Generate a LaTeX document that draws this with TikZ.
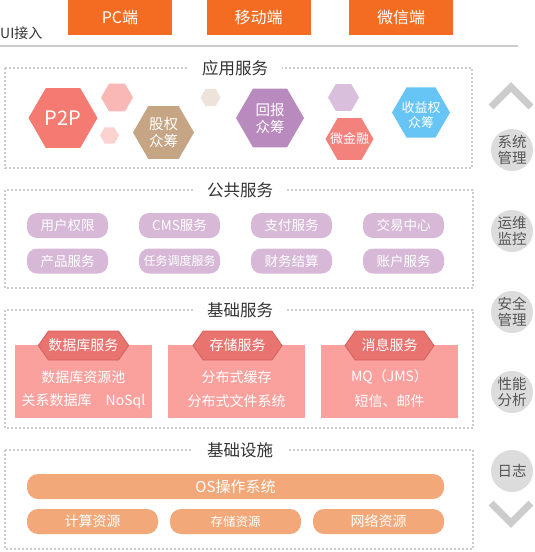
\documentclass[tikz,border=0pt]{standalone}
\usepackage{fontspec}
\setmainfont{Noto Sans CJK SC}
\usetikzlibrary{shapes.geometric,shapes.symbols}

\definecolor{uiorange}{HTML}{F36C21}
\definecolor{linegray}{HTML}{CCCCCC}
\definecolor{titlegray}{HTML}{333333}
\definecolor{p2pred}{HTML}{F47A72}
\definecolor{softpink}{HTML}{F9B8B6}
\definecolor{palepink}{HTML}{FCD2D1}
\definecolor{tanbrown}{HTML}{C6A585}
\definecolor{beige}{HTML}{EDE3DB}
\definecolor{mauve}{HTML}{B98ABD}
\definecolor{lilac}{HTML}{D9BFDB}
\definecolor{coral}{HTML}{F4827C}
\definecolor{skyblue}{HTML}{66C5F5}
\definecolor{pillpurple}{HTML}{D7B9D7}
\definecolor{panelpink}{HTML}{FBA19D}
\definecolor{headred}{HTML}{E8736F}
\definecolor{headedge}{HTML}{D45F5B}
\definecolor{infraorange}{HTML}{F2A878}
\definecolor{circgray}{HTML}{DCDCDC}
\definecolor{circtext}{HTML}{555555}

\begin{document}
\begin{tikzpicture}[x=1pt, y=-1pt, font=\fontsize{13}{15}\selectfont,
  layer/.style={draw=linegray, line width=1.6pt, dash pattern=on 1.6pt off 2.4pt},
  layertitle/.style={fill=white, text=titlegray, inner xsep=14pt, inner ysep=3pt,
    font=\fontsize{16.5}{18}\selectfont},
  entry/.style={fill=uiorange, text=white, minimum width=104pt, minimum height=35pt,
    inner sep=0pt, font=\fontsize{16}{17}\selectfont},
  hexa/.style={regular polygon, regular polygon sides=6, inner sep=0pt, fill=#1},
  hextext/.style={text=white, align=center, inner sep=0pt, font=\fontsize{14.5}{17}\selectfont},
  pill/.style={fill=pillpurple, text=white, rounded corners=10pt, minimum width=81pt,
    minimum height=25pt, inner sep=0pt, font=\fontsize{13.5}{15}\selectfont},
  panel/.style={fill=panelpink, minimum width=137pt, minimum height=73pt, inner sep=0pt},
  panelhead/.style={signal, signal to=west and east, signal pointer angle=110,
    fill=headred, draw=headedge, line width=0.8pt, text=white, minimum width=89pt,
    minimum height=29pt, inner sep=0pt, font=\fontsize{14}{16}\selectfont},
  paneltext/.style={text=white, inner sep=0pt, font=\fontsize{14}{16}\selectfont},
  infra/.style={fill=infraorange, text=white, rounded corners=11pt, minimum height=25pt,
    inner sep=0pt, font=\fontsize{14}{16}\selectfont},
  side/.style={circle, fill=circgray, text=circtext, minimum size=42pt, inner sep=0pt,
    align=center, font=\fontsize{14.5}{16}\selectfont},
  chev/.style={draw=linegray, line width=7pt, miter limit=10}]

  \useasboundingbox (0,0) rectangle (535,552);

  % --- UI接入 ---
  \node[anchor=west, text=titlegray, inner sep=0pt, font=\fontsize{14}{16}\selectfont] (ui) at (0,33) {UI接入};
  \node[entry] (pc) at (120,17.5) {PC端};
  \node[entry] (mobile) at (258.5,17.5) {移动端};
  \node[entry] (wechat) at (401,17.5) {微信端};
  \draw[linegray, line width=2.5pt] (0,46) -- (518,46);

  % --- 应用服务 ---
  \draw[layer] (5,68) rectangle (472,168);
  \node[layertitle] (app) at (235,68) {应用服务};
  \node[hexa=p2pred, minimum size=69pt] (p2p) at (63,118) {};
  \node[hextext, font=\fontsize{20}{22}\selectfont] (p2p-t) at (p2p) {P2P};
  \node[hexa=softpink, minimum size=32pt] (dot1) at (117,97.5) {};
  \node[hexa=palepink, minimum size=19pt] (dot2) at (109.5,135.5) {};
  \node[hexa=tanbrown, minimum size=61pt] (equity) at (163.5,132.5) {};
  \node[hextext] (equity-t) at (equity) {股权\\众筹};
  \node[hexa=beige, minimum size=20pt] (dot3) at (210.5,97.5) {};
  \node[hexa=mauve, minimum size=68pt] (reward) at (270,118) {};
  \node[hextext] (reward-t) at (reward) {回报\\众筹};
  \node[hexa=lilac, minimum size=31pt] (dot4) at (343.5,97.5) {};
  \node[hexa=coral, minimum size=48pt] (micro) at (349.5,139) {};
  \node[hextext, font=\fontsize{13}{15}\selectfont] (micro-t) at (micro) {微金融};
  \node[hexa=skyblue, minimum size=58pt] (income) at (421,112.5) {};
  \node[hextext, font=\fontsize{13}{15}\selectfont] (income-t) at (421,115) {收益权\\众筹};

  % --- 公共服务 ---
  \draw[layer] (5,190) rectangle (473,288);
  \node[layertitle] (common) at (240,190) {公共服务};
  \node[pill] (auth) at (67.5,225.5) {用户权限};
  \node[pill] (cms) at (179.5,225.5) {CMS服务};
  \node[pill] (pay) at (291.5,225.5) {支付服务};
  \node[pill] (trade) at (403.5,225.5) {交易中心};
  \node[pill] (product) at (67.5,261) {产品服务};
  \node[pill, font=\fontsize{12}{14}\selectfont] (sched) at (179.5,261) {任务调度服务};
  \node[pill] (settle) at (291.5,261) {财务结算};
  \node[pill] (account) at (403.5,261) {账户服务};

  % --- 基础服务 ---
  \draw[layer] (5,310) rectangle (473,428);
  \node[layertitle] (base) at (240,310) {基础服务};
  \node[panel] (db) at (83.5,381.5) {};
  \node[panel] (store) at (236.5,381.5) {};
  \node[panel] (msg) at (389.5,381.5) {};
  \node[panelhead] (db-h) at (83.5,345.5) {数据库服务};
  \node[panelhead] (store-h) at (237.5,345.5) {存储服务};
  \node[panelhead] (msg-h) at (389.5,345.5) {消息服务};
  \node[paneltext] (db-1) at (83.5,377) {数据库资源池};
  \node[paneltext] (db-2) at (83.5,401) {关系数据库\quad NoSql};
  \node[paneltext] (store-1) at (236.5,377) {分布式缓存};
  \node[paneltext] (store-2) at (236.5,401) {分布式文件系统};
  \node[paneltext] (msg-1) at (389.5,377) {MQ（JMS）};
  \node[paneltext] (msg-2) at (389.5,401) {短信、邮件};

  % --- 基础设施 ---
  \draw[layer] (5,450) rectangle (473,549);
  \node[layertitle] (infra) at (240,450) {基础设施};
  \node[infra, minimum width=417pt, font=\fontsize{15}{17}\selectfont] (os) at (235.5,486.5) {OS操作系统};
  \node[infra, minimum width=131pt] (compute) at (92.5,521.5) {计算资源};
  \node[infra, minimum width=131pt, font=\fontsize{12.5}{14}\selectfont] (storage) at (235.5,521.5) {存储资源};
  \node[infra, minimum width=131pt] (network) at (378.5,521.5) {网络资源};

  % --- 右侧: 管理 ---
  \draw[chev] (491,107) -- (511,87) -- (531,107);
  \node[side] (sys) at (512,150) {系统\\管理};
  \node[side] (ops) at (512,231) {运维\\监控};
  \node[side] (sec) at (512,312) {安全\\管理};
  \node[side] (perf) at (512,392) {性能\\分析};
  \node[side] (log) at (512,471) {日志};
  \draw[chev] (491,503) -- (511,523) -- (531,503);
\end{tikzpicture}
\end{document}
